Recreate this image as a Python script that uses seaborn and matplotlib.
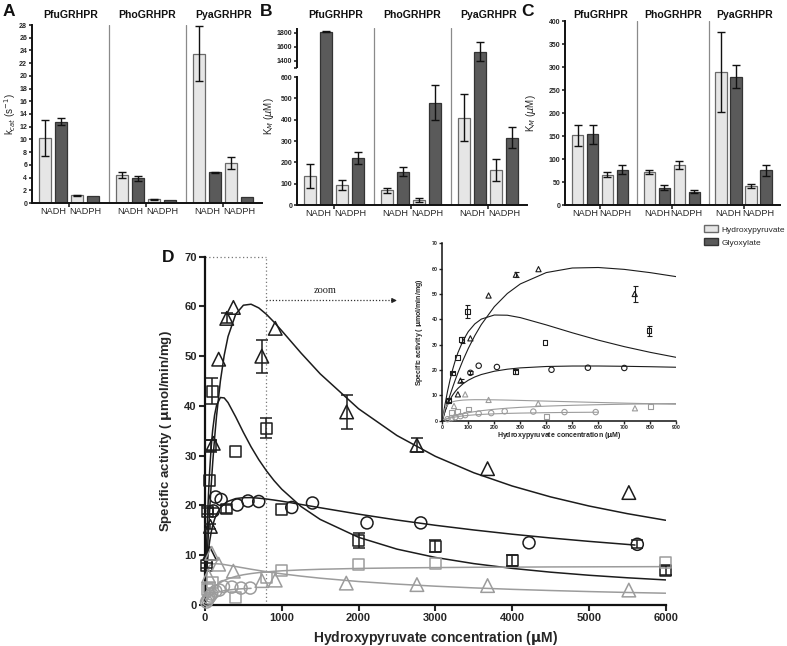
import numpy as np
import pandas as pd
import matplotlib
matplotlib.use("Agg")
import matplotlib.pyplot as plt
import seaborn as sns
from matplotlib.patches import Patch

sns.set_theme(style="ticks")
plt.rcParams["font.family"] = ["Liberation Sans", "DejaVu Sans"]
plt.rcParams["mathtext.fontset"] = "dejavusans"

# ---------------- data: panels A-C ----------------
enzymes = ["PfuGRHPR", "PhoGRHPR", "PyaGRHPR"]
cofactors = ["NADH", "NADPH"]
substrates = ["Hydroxypyruvate", "Glyoxylate"]
# order inside each enzyme: NADH-HP, NADH-Gly, NADPH-HP, NADPH-Gly
kcat = [10.2, 12.8, 1.2, 1.15, 4.4, 3.9, 0.6, 0.5, 23.5, 4.8, 6.3, 1.0]
kcat_err = [2.8, 0.5, 0.05, 0.0, 0.45, 0.4, 0.05, 0.0, 4.3, 0.15, 1.0, 0.0]
km_b = [137, 1820, 92, 220, 70, 157, 22, 480, 410, 1530, 164, 315]
km_b_err = [56, 12, 24, 28, 12, 23, 9, 83, 110, 135, 53, 49]
km_c = [152, 154, 66, 77, 72, 38, 87, 29, 290, 279, 41, 76]
km_c_err = [23, 21, 5, 10, 5, 5, 8, 3, 87, 25, 4, 12]

# ---------------- data: panel D ----------------
curve_x = [0, 10, 20, 30, 40, 50, 60, 80, 100, 125, 150, 200, 250, 300, 400, 500,
           600, 700, 800, 900, 1000, 1250, 1500, 2000, 2500, 3000, 3500, 4000,
           4500, 5000, 5500, 6000]
tri_blk_curve = [0, 3.56, 6.95, 10.17, 13.23, 16.13, 18.88, 23.97, 28.52, 33.56, 37.93,
                 44.98, 50.18, 53.96, 58.45, 60.25, 60.45, 59.71, 58.42, 56.84, 55.11,
                 50.65, 46.46, 39.44, 34.06, 29.88, 26.58, 23.92, 21.73, 19.90, 18.36, 17.03]
sq_blk_curve = [0, 6.16, 11.54, 16.22, 20.27, 23.78, 26.81, 31.64, 35.17, 38.19, 40.09,
                41.70, 41.62, 40.68, 37.80, 34.69, 31.79, 29.22, 26.97, 24.99, 23.27,
                19.80, 17.20, 13.60, 11.23, 9.56, 8.32, 7.36, 6.60, 5.98, 5.47, 5.04]
circ_blk_x = [0, 10, 20, 30, 40, 50, 60, 80, 100, 125, 150, 200, 250, 300, 400, 500,
              600, 700, 800, 900, 1000, 1250, 1500, 2000, 2500, 3000, 3500, 4000,
              4500, 5000, 5600]
circ_blk_curve = [0, 3.56, 6.28, 8.41, 10.14, 11.55, 12.74, 14.59, 15.97, 17.26, 18.22,
                  19.52, 20.32, 20.84, 21.39, 21.57, 21.58, 21.47, 21.30, 21.09, 20.86,
                  20.21, 19.55, 18.26, 17.08, 16.02, 15.08, 14.23, 13.47, 12.79, 12.05]
tri_gry_curve = [0, 4.72, 6.27, 7.02, 7.46, 7.73, 7.91, 8.13, 8.23, 8.29, 8.29, 8.23,
                 8.13, 8.00, 7.73, 7.46, 7.19, 6.94, 6.70, 6.48, 6.27, 5.80, 5.39, 4.72,
                 4.20, 3.78, 3.44, 3.15, 2.91, 2.70, 2.52, 2.37]
sq_gry_curve = [0, 0.49, 0.93, 1.32, 1.66, 1.98, 2.26, 2.75, 3.16, 3.59, 3.95, 4.51,
                4.94, 5.27, 5.75, 6.08, 6.32, 6.51, 6.65, 6.77, 6.87, 7.05, 7.18, 7.35,
                7.45, 7.52, 7.58, 7.61, 7.65, 7.67, 7.69, 7.71]
circ_gry_x = [0, 10, 20, 30, 40, 50, 60, 80, 100, 125, 150, 200, 250, 300, 400, 500, 600]
circ_gry_curve = [0, 0.42, 0.76, 1.04, 1.27, 1.46, 1.63, 1.90, 2.11, 2.32, 2.48, 2.71,
                  2.88, 3.00, 3.17, 3.28, 3.35]

tri_blk_x = [60, 70, 108, 178, 283, 370, 740, 915, 1845, 2760, 3680, 5520]
tri_blk_y = [10.4, 15.8, 32.5, 49.4, 57.6, 59.8, 50.0, 55.6, 38.8, 32.1, 27.4, 22.6]
tri_blk_e = [0, 0.5, 0, 0, 1.0, 0, 3.3, 0, 3.5, 1.4, 0, 0]
sq_blk_x = [23, 38, 58, 74, 96, 280, 395, 795, 1000, 2000, 3000, 4000, 6000]
sq_blk_y = [7.9, 18.8, 25.0, 32.0, 43.0, 19.3, 30.9, 35.5, 19.2, 13.0, 11.8, 9.0, 7.0]
sq_blk_e = [0.5, 0.6, 0, 1.2, 2.6, 0.8, 0, 2.0, 0, 1.5, 1.2, 1.1, 0.9]
circ_blk_x_pts = [108, 140, 210, 420, 560, 700, 1130, 1400, 2110, 2810, 4220, 5630]
circ_blk_y = [18.9, 21.7, 21.2, 20.1, 20.9, 20.8, 19.6, 20.5, 16.5, 16.5, 12.5, 12.2]
circ_blk_e = [0.6, 0, 0, 0, 0, 0, 0, 0, 0, 0, 0, 0.8]
tri_gry_x = [45, 88, 178, 369, 741, 915, 1840, 2760, 3680, 5520]
tri_gry_y = [5.8, 10.4, 8.2, 6.8, 4.9, 5.0, 4.4, 4.1, 3.9, 3.0]
sq_gry_x = [36, 58, 100, 400, 800, 1000, 2000, 3000, 6000]
sq_gry_y = [3.2, 3.6, 4.6, 1.6, 5.6, 7.0, 8.2, 8.4, 8.5]
circ_gry_x_pts = [20, 35, 50, 70, 88, 140, 188, 240, 350, 470, 590]
circ_gry_y = [0.6, 1.0, 1.4, 1.8, 2.2, 2.8, 3.0, 3.7, 3.6, 3.4, 3.4]

# ---------------- styles ----------------
LIGHT, LIGHT_EDGE = "#e6e6e6", "#6a6a6a"
DARK, DARK_EDGE = "#5a5a5a", "#333333"
BLK, GRY = "#1c1c1c", "#9c9c9c"
SEP = "#8a8a8a"

W, H = 787, 646
fig = plt.figure(figsize=(W / 100, H / 100), dpi=100)


def rect(l, t, r, b):
    return [l / W, 1 - b / H, (r - l) / W, (b - t) / H]


GP, OFF = 2.4, 0.42  # group pitch / first-bar offset (layout)


def build_df(vals, errs):
    rows = []
    i = 0
    for g, enz in enumerate(enzymes):
        for c, cof in enumerate(cofactors):
            for s, sub in enumerate(substrates):
                k = c * 2 + s
                rows.append(dict(enzyme=enz, cofactor=cof, substrate=sub,
                                 pos=g * GP + OFF + 0.5 * k, value=vals[i], err=errs[i]))
                i += 1
    return pd.DataFrame(rows)


def bar_panel(ax, vals, errs, ylabel, ylab_x, title_dy):
    df = build_df(vals, errs)
    sns.barplot(data=df, x="pos", y="value", hue="substrate", dodge=False,
                native_scale=True, width=0.75, errorbar=None,
                palette={"Hydroxypyruvate": LIGHT, "Glyoxylate": DARK},
                linewidth=0.9, legend=False, ax=ax)
    for p in ax.patches:
        fc = p.get_facecolor()
        p.set_edgecolor(LIGHT_EDGE if fc[0] > 0.6 else DARK_EDGE)
    m = df["err"] > 0
    ax.errorbar(df.loc[m, "pos"], df.loc[m, "value"], yerr=df.loc[m, "err"],
                fmt="none", ecolor="#111111", elinewidth=1.0, capsize=2.8,
                capthick=1.0, zorder=4)
    for g in (1, 2):
        ax.axvline(g * GP, color=SEP, lw=0.9, zorder=0)
    ax.set_xlim(0, 7.19)
    centers = [g * GP + OFF + 0.25 + c for g in range(3) for c in range(2)]
    ax.set_xticks([g * GP + OFF + 0.75 for g in range(3)])
    ax.set_xticklabels([])
    ax.set_xticks(centers, minor=True)
    ax.set_xticklabels([cofactors[c] for g in range(3) for c in range(2)],
                       minor=True, fontsize=6.6)
    ax.tick_params(axis="x", which="minor", length=0, pad=3)
    ax.tick_params(axis="x", which="major", length=3, width=1.2)
    ax.tick_params(axis="y", labelsize=5, length=2.5, width=1.2, pad=1)
    ax.set_xlabel("")
    ax.set_ylabel(ylabel, fontsize=7, labelpad=1)
    ax.yaxis.set_label_coords(ylab_x, 0.5)
    for s in ("top", "right"):
        ax.spines[s].set_visible(False)
    for s in ("left", "bottom"):
        ax.spines[s].set_linewidth(1.4)
        ax.spines[s].set_color("#111111")
    tr = ax.get_xaxis_transform()
    for g, enz in enumerate(enzymes):
        ax.text(g * GP + 1.2, 1 + title_dy, enz, transform=tr, ha="center",
                va="center", fontsize=7.6, fontweight="bold", color="#111111")


def bold_ticks(ax):
    for lab in ax.get_xticklabels() + ax.get_yticklabels():
        lab.set_fontweight("bold")


# Panel A
axA = fig.add_axes(rect(32, 25, 262, 203))
bar_panel(axA, kcat, kcat_err, r"k$_{cat}$ (s$^{-1}$)", -(32 - 18) / 230, 10 / 178)
axA.set_ylim(0, 28)
axA.set_yticks(range(0, 29, 2))
for lab in axA.get_yticklabels():
    lab.set_fontweight("bold")

# Panel B (broken axis through a piecewise scale)
def fwd(y):
    y = np.asarray(y, dtype=float)
    return np.where(y <= 600, y / 600 * 128,
                    np.where(y <= 1300, 128 + (y - 600) / 700 * 9,
                             137 + (y - 1300) / 570 * 40))


def inv(z):
    z = np.asarray(z, dtype=float)
    return np.where(z <= 128, z / 128 * 600,
                    np.where(z <= 137, 600 + (z - 128) / 9 * 700,
                             1300 + (z - 137) / 40 * 570))


axB = fig.add_axes(rect(297, 28, 527, 205))
axB.set_yscale("function", functions=(fwd, inv))
bar_panel(axB, km_b, km_b_err, r"K$_M$ ($\mu$M)", -(297 - 276) / 230, 13 / 177)
axB.set_ylim(0, 1870)
axB.set_yticks([0, 100, 200, 300, 400, 500, 600, 1400, 1600, 1800])
axB.set_yticks([1300], minor=True)
axB.tick_params(axis="y", which="minor", length=2.5, width=1.2)
for lab in axB.get_yticklabels():
    lab.set_fontweight("bold")
axB.spines["left"].set_bounds(0, 600)
axB.plot([0, 0], [1300, 1870], transform=axB.get_yaxis_transform(),
         color="#111111", lw=1.4, clip_on=False, solid_capstyle="butt")

# Panel C
axC = fig.add_axes(rect(565, 21.3, 780, 205))
bar_panel(axC, km_c, km_c_err, r"K$_M$ ($\mu$M)", -(565 - 538) / 215, 6 / 184)
axC.set_ylim(0, 400)
axC.set_yticks(range(0, 401, 50))
for lab in axC.get_yticklabels():
    lab.set_fontweight("bold")

# legend
handles = [Patch(facecolor=LIGHT, edgecolor=LIGHT_EDGE, label=substrates[0]),
           Patch(facecolor=DARK, edgecolor=DARK_EDGE, label=substrates[1])]
fig.legend(handles=handles, loc="upper left", bbox_to_anchor=(700 / W, 1 - 221 / H),
           frameon=False, fontsize=6, handlelength=1.6, handleheight=0.9,
           handletextpad=0.5, labelspacing=0.6, borderpad=0)

# panel letters
for lab, x, y in (("A", 9, 11), ("B", 266, 11), ("C", 528, 11), ("D", 168, 258)):
    fig.text(x / W, 1 - y / H, lab, fontsize=12.5, fontweight="bold",
             ha="center", va="center", color="#111111")

# ---------------- Panel D ----------------
series = [
    ("^", BLK, tri_blk_x, tri_blk_y, tri_blk_e, curve_x, tri_blk_curve),
    ("s", BLK, sq_blk_x, sq_blk_y, sq_blk_e, curve_x, sq_blk_curve),
    ("o", BLK, circ_blk_x_pts, circ_blk_y, circ_blk_e, circ_blk_x, circ_blk_curve),
    ("^", GRY, tri_gry_x, tri_gry_y, [0] * len(tri_gry_x), curve_x, tri_gry_curve),
    ("s", GRY, sq_gry_x, sq_gry_y, [0] * len(sq_gry_x), curve_x, sq_gry_curve),
    ("o", GRY, circ_gry_x_pts, circ_gry_y, [0] * len(circ_gry_x_pts), circ_gry_x, circ_gry_curve),
]


def draw_kinetics(ax, sizes, lw, cap, elw, xmax):
    for mk, col, px, py, pe, cx, cy in series:
        sns.lineplot(x=cx, y=cy, color=col, lw=lw, sort=False, estimator=None,
                     ax=ax, zorder=2)
        px = np.asarray(px, dtype=float)
        py = np.asarray(py, dtype=float)
        pe = np.asarray(pe, dtype=float)
        keep = px <= xmax
        px, py, pe = px[keep], py[keep], pe[keep]
        m = pe > 0
        if m.any():
            ax.errorbar(px[m], py[m], yerr=pe[m], fmt="none",
                        ecolor=col, elinewidth=elw, capsize=cap, capthick=elw,
                        zorder=3, clip_on=False)
        sns.scatterplot(x=px, y=py, marker=mk, s=sizes[mk], color=col,
                        facecolor="none", edgecolor=col, linewidth=lw, ax=ax,
                        zorder=4, clip_on=False, legend=False)


axD = fig.add_axes(rect(205, 256.7, 665.7, 605))
draw_kinetics(axD, {"^": 95, "s": 62, "o": 75}, 1.1, 4.5, 1.1, 6000)
axD.set_xlim(0, 6000)
axD.set_ylim(0, 70)
axD.set_xticks(range(0, 6001, 1000))
axD.set_yticks(range(0, 71, 10))
axD.tick_params(labelsize=8, length=4, width=1.5, pad=2)
bold_ticks(axD)
for s in ("top", "right"):
    axD.spines[s].set_visible(False)
for s in ("left", "bottom"):
    axD.spines[s].set_linewidth(1.6)
    axD.spines[s].set_color("#111111")
axD.set_xlabel(r"Hydroxypyruvate concentration ($\mathbf{\mu}$M)", fontsize=10,
               fontweight="bold")
axD.set_ylabel(r"Specific activity ( $\mathbf{\mu}$mol/min/mg)", fontsize=9.5,
               fontweight="bold")
axD.xaxis.set_label_coords(0.5, -(629 - 605) / 348.3)
axD.yaxis.set_label_coords(-(205 - 174) / 460.7, 0.5)
# zoom box and arrow
axD.plot([800, 800], [0, 70], ls=(0, (1, 2)), color="#777777", lw=0.9, zorder=1)
axD.plot([0, 800], [70, 70], ls=(0, (1, 2)), color="#777777", lw=0.9, zorder=1,
         clip_on=False)
axD.plot([800, 2440], [61.2, 61.2], ls=(0, (1, 1.5)), color="#333333", lw=0.9)
axD.annotate("", xy=(2500, 61.2), xytext=(2430, 61.2),
             arrowprops=dict(arrowstyle="-|>", color="#222222", lw=0.8,
                             mutation_scale=7, shrinkA=0, shrinkB=0))
axD.text(1560, 62.4, "zoom", family=["Liberation Serif", "DejaVu Serif"],
         fontsize=7.5, ha="center", va="bottom", color="#222222")

# inset
axI = fig.add_axes(rect(442.3, 243.3, 676.3, 420.7))
draw_kinetics(axI, {"^": 14, "s": 12, "o": 15}, 0.8, 1.8, 0.8, 900)
axI.set_xlim(0, 900)
axI.set_ylim(0, 70)
axI.set_xticks(range(0, 901, 100))
axI.set_yticks(range(0, 71, 10))
axI.tick_params(labelsize=3.8, length=2, width=1.0, pad=1)
bold_ticks(axI)
for s in ("top", "right"):
    axI.spines[s].set_visible(False)
for s in ("left", "bottom"):
    axI.spines[s].set_linewidth(1.1)
    axI.spines[s].set_color("#111111")
axI.set_xlabel(r"Hydroxypyruvate concentration ($\mathbf{\mu}$M)", fontsize=5,
               fontweight="bold")
axI.set_ylabel(r"Specific activity ( $\mathbf{\mu}$mol/min/mg)", fontsize=5,
               fontweight="bold")
axI.xaxis.set_label_coords(0.5, -(430 - 420.7) / 177.4)
axI.yaxis.set_label_coords(-(442.3 - 425) / 234, 0.5)

fig.savefig("out.png", dpi=100)
